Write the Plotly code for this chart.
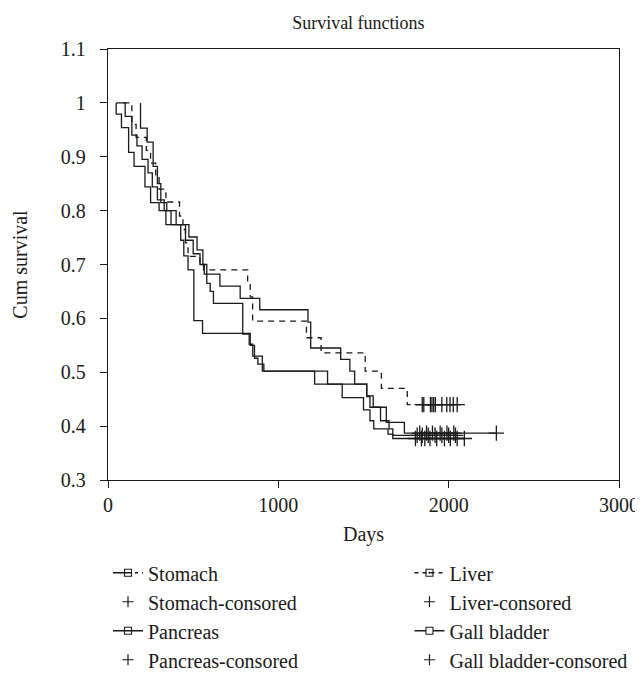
import plotly.graph_objects as go

# ---- Kaplan-Meier step data (days, cumulative survival) ----
stomach_days = [48, 48, 79, 121, 153, 217, 250, 300, 340, 427, 445, 470, 504, 555, 835, 860, 880, 915,
                1213, 1375, 1500, 1538, 1560, 1644, 1672, 2092]
stomach_surv = [1.0, 0.979, 0.954, 0.908, 0.882, 0.844, 0.815, 0.800, 0.774, 0.745, 0.716, 0.690, 0.596, 0.572,
                0.550, 0.526, 0.515, 0.502, 0.478, 0.453, 0.430, 0.410, 0.395, 0.385, 0.377, 0.377]
stomach_cens_days = [1805, 1840, 1860, 1890, 1930, 1975, 2010, 2050, 2092]
stomach_cens_surv = [0.377] * len(stomach_cens_days)

pancreas_days = [48, 101, 140, 170, 200, 235, 260, 290, 330, 370, 475, 523, 557, 565, 657, 776, 891, 1174, 1190,
                 1366, 1420, 1448, 1519, 1557, 1634, 1740, 2280]
pancreas_surv = [1.0, 0.975, 0.940, 0.920, 0.895, 0.870, 0.844, 0.820, 0.800, 0.774, 0.751, 0.727, 0.700, 0.682,
                 0.660, 0.637, 0.616, 0.593, 0.545, 0.524, 0.502, 0.478, 0.456, 0.435, 0.407, 0.387, 0.387]
pancreas_cens_days = [1830, 1870, 1905, 1950, 1990, 2030, 2280]
pancreas_cens_surv = [0.387] * len(pancreas_cens_days)

liver_days = [90, 140, 165, 225, 250, 280, 300, 340, 420, 440, 455, 470, 540, 561, 820, 835, 849, 1165, 1251,
              1510, 1605, 1757, 2050]
liver_surv = [1.0, 0.960, 0.936, 0.912, 0.888, 0.864, 0.840, 0.816, 0.790, 0.765, 0.740, 0.715, 0.700, 0.690,
              0.665, 0.640, 0.595, 0.564, 0.536, 0.502, 0.470, 0.440, 0.440]
liver_cens_days = [1845, 1854, 1893, 1902, 1912, 1922, 1960, 1989, 2008, 2027, 2050]
liver_cens_surv = [0.440] * len(liver_cens_days)

gall_days = [191, 191, 230, 265, 290, 310, 345, 400, 455, 500, 540, 580, 600, 619, 791, 829, 850, 906, 1289,
             1519, 1538, 1600, 1650, 1672, 2050]
gall_surv = [1.0, 0.953, 0.927, 0.882, 0.850, 0.815, 0.800, 0.774, 0.745, 0.720, 0.700, 0.665, 0.650, 0.628,
             0.571, 0.552, 0.530, 0.502, 0.478, 0.455, 0.435, 0.410, 0.395, 0.383, 0.383]
gall_cens_days = [1815, 1845, 1880, 1920, 1960, 2000, 2040]
gall_cens_surv = [0.383] * len(gall_cens_days)

x_ticks = [0, 1000, 2000, 3000]
y_ticks = [0.3, 0.4, 0.5, 0.6, 0.7, 0.8, 0.9, 1.0, 1.1]

FONT = "Liberation Serif"
INK = "#1a1a1a"
LW = 1.3

fig = go.Figure()

series = [
    ("Stomach", stomach_days, stomach_surv, stomach_cens_days, stomach_cens_surv, "solid"),
    ("Pancreas", pancreas_days, pancreas_surv, pancreas_cens_days, pancreas_cens_surv, "solid"),
    ("Liver", liver_days, liver_surv, liver_cens_days, liver_cens_surv, "6px,5px"),
    ("Gall bladder", gall_days, gall_surv, gall_cens_days, gall_cens_surv, "solid"),
]

for name, d, s, cd, cs, dash in series:
    fig.add_trace(go.Scatter(x=d, y=s, mode="lines", line=dict(shape="hv", color=INK, width=LW, dash=dash),
                             showlegend=False, hoverinfo="skip"))
    fig.add_trace(go.Scatter(x=cd, y=cs, mode="markers",
                             marker=dict(symbol="cross-thin-open", size=11, color=INK,
                                         line=dict(color=INK, width=1.3)),
                             showlegend=False, hoverinfo="skip"))

# legend entries (two columns): name, line dash, marker symbol, marker fill, legend id
legend_items = [
    ("Stomach", "18px,4px,3px,4px", "square-open", INK, "legend"),
    ("Stomach-consored", None, None, None, "legend"),
    ("Pancreas", "solid", "square-open", INK, "legend"),
    ("Pancreas-consored", None, None, None, "legend"),
    ("Liver", "4px,4px", "square-open-dot", INK, "legend2"),
    ("Liver-consored", None, None, None, "legend2"),
    ("Gall bladder", "solid", "square", "white", "legend2"),
    ("Gall bladder-consored", None, None, None, "legend2"),
]
for name, dash, sym, fill, lg in legend_items:
    if dash is None:
        fig.add_trace(go.Scatter(x=[None], y=[None], mode="markers", name=name, legend=lg,
                                 marker=dict(symbol="cross-thin-open", size=8, color=INK,
                                             line=dict(color=INK, width=1.2))))
    else:
        fig.add_trace(go.Scatter(x=[None], y=[None], mode="lines+markers", name=name, legend=lg,
                                 line=dict(color=INK, width=LW, dash=dash),
                                 marker=dict(symbol=sym, size=7, color=fill,
                                             line=dict(color=INK, width=1.1))))

axis_common = dict(showline=True, linecolor=INK, linewidth=1.3, mirror=True, ticks="outside", ticklen=7,
                   tickwidth=1.2, tickcolor=INK, showgrid=False, zeroline=False,
                   tickfont=dict(family=FONT, size=20, color=INK))

fig.update_layout(
    width=643, height=683,
    margin=dict(l=99, r=22, t=41, b=187),
    paper_bgcolor="white", plot_bgcolor="white",
    font=dict(family=FONT, size=20, color=INK),
    title=dict(text="Survival functions", x=0.49, xref="paper", xanchor="center",
               y=1 - 15 / 683, yref="container", yanchor="middle",
               font=dict(family=FONT, size=18, color=INK)),
    xaxis=dict(range=[0, 3000], tickvals=x_ticks, ticktext=[str(v) for v in x_ticks],
               title=dict(text="Days", standoff=11, font=dict(family=FONT, size=20, color=INK)),
               **axis_common),
    yaxis=dict(range=[0.3, 1.1], tickvals=y_ticks, ticktext=[f"{v:g}" for v in y_ticks],
               ticklabelstandoff=10,
               title=dict(text="Cum survival", standoff=27, font=dict(family=FONT, size=20, color=INK)),
               **axis_common),
    legend=dict(x=0.0, y=-0.17, xanchor="left", yanchor="top", orientation="v",
                font=dict(family=FONT, size=20, color=INK), bgcolor="rgba(0,0,0,0)", tracegroupgap=0),
    legend2=dict(x=0.59, y=-0.17, xanchor="left", yanchor="top", orientation="v",
                 font=dict(family=FONT, size=20, color=INK), bgcolor="rgba(0,0,0,0)", tracegroupgap=0),
)

fig.write_html("out.html")
